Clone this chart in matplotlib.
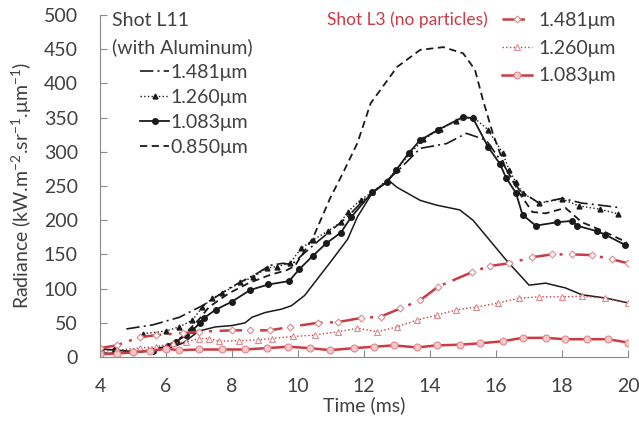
import matplotlib
matplotlib.use("Agg")
import matplotlib.pyplot as plt

plt.rcParams['font.family'] = ['Lato', 'DejaVu Sans']
plt.rcParams['mathtext.default'] = 'regular'

# Shot L11 (with Aluminum), black curves
t_al_1481 = [4.8, 5.6, 6.4, 7.1, 8.0, 8.75, 9.15, 9.55, 9.8, 10.1, 10.5, 11.0, 11.5, 12.0, 12.5,
             13.0, 13.7, 14.5, 15.1, 15.7, 16.2, 16.7, 17.3, 18.0, 18.6, 19.15, 19.8]
v_al_1481 = [41, 47, 58, 75, 103, 122, 134, 137, 135, 148, 165, 185, 205, 230, 250,
             271, 305, 312, 327, 317, 283, 244, 225, 232, 225, 222, 218]

t_al_1260 = [5.3, 6.0, 6.4, 6.8, 7.1, 7.4, 7.7, 8.25, 8.65, 9.05, 9.35, 9.75, 10.1, 10.45, 10.9,
             11.3, 11.5, 11.9, 12.25, 12.7, 13.0, 13.4, 13.8, 14.3, 14.8, 15.3, 15.76, 16.2,
             16.4, 16.6, 16.8, 17.3, 18.0, 18.5, 19.15, 19.7]
v_al_1260 = [34, 38, 44, 54, 73, 86, 93, 109, 117, 130, 132, 137, 159, 171, 184,
             197, 212, 230, 241, 258, 275, 298, 318, 333, 345, 351, 332, 298,
             273, 256, 240, 225, 231, 221, 216, 209]

t_al_1083 = [4.0, 4.45, 5.0, 5.6, 6.07, 6.3, 6.6, 6.8, 7.03, 7.15, 7.5, 8.0, 8.55, 9.1, 9.73,
             10.03, 10.45, 10.85, 11.3, 11.6, 12.25, 12.7, 12.97, 13.35, 13.7, 14.24, 15.0,
             15.3, 15.76, 16.12, 16.3, 16.6, 16.8, 17.2, 17.85, 18.3, 18.45, 19.05, 19.3, 19.9]
v_al_1083 = [12, 10, 8, 9, 16, 22, 32, 39, 50, 57, 69, 81, 98, 106, 111,
             128, 148, 166, 182, 204, 241, 256, 273, 298, 317, 332, 351,
             349, 307, 282, 262, 240, 208, 192, 197, 199, 192, 184, 179, 164]

t_al_0850 = [4.0, 5.0, 6.0, 6.5, 7.0, 7.3, 7.9, 8.5, 9.15, 9.66, 9.9, 10.45, 10.97, 11.36, 11.8,
             12.2, 13.0, 13.7, 14.4, 15.0, 15.36, 15.6, 15.9, 16.27, 16.7, 17.1, 17.5, 18.1,
             18.6, 19.15, 19.95]
v_al_0850 = [5, 7, 15, 30, 55, 73, 93, 108, 120, 127, 133, 174, 232, 269, 313,
             371, 424, 449, 453, 444, 420, 376, 327, 278, 240, 212, 210, 218,
             197, 186, 168]

# unlabeled thin black curve
t_al_other = [4.0, 5.0, 6.0, 6.5, 7.0, 7.5, 8.0, 8.4, 8.6, 9.0, 9.5, 9.8, 10.2, 10.6, 11.0,
              11.5, 11.8, 12.25, 12.75, 13.0, 13.7, 14.2, 14.9, 15.3, 15.8, 16.3, 17.0, 17.5,
              18.1, 18.6, 19.35, 20.0]
v_al_other = [5, 6, 12, 20, 38, 44, 46, 50, 58, 65, 70, 75, 90, 115, 140,
              172, 205, 240, 258, 248, 229, 222, 215, 200, 171, 142, 105, 108,
              101, 91, 86, 79]

# Shot L3 (no particles), red curves
t_np_1481 = [4.0, 4.5, 5.2, 5.7, 6.5, 7.0, 8.0, 8.55, 9.15, 9.76, 10.6, 11.2, 11.9, 12.5, 13.1,
             13.7, 14.25, 15.27, 15.8, 16.4, 17.1, 17.7, 18.3, 18.9, 19.5, 20.0]
v_np_1481 = [13, 17, 29, 32, 35, 37, 39, 39, 39, 44, 50, 51, 57, 59, 71,
             83, 103, 124, 133, 137, 146, 150, 150, 149, 143, 137]

t_np_1260 = [4.0, 4.5, 5.2, 5.7, 6.2, 6.6, 7.0, 7.3, 7.6, 8.2, 8.8, 9.2, 9.85, 10.5, 11.2,
             11.8, 12.4, 13.0, 13.6, 14.2, 14.8, 15.4, 16.06, 16.7, 17.3, 18.0, 18.6, 19.3, 20.0]
v_np_1260 = [8, 10, 13, 15, 20, 22, 27, 27, 23, 24, 25, 27, 30, 32, 37,
             42, 37, 44, 54, 61, 69, 73, 79, 86, 88, 88, 89, 86, 79]

t_np_1083 = [4.0, 4.5, 5.0, 5.5, 6.0, 6.4, 7.0, 7.7, 8.4, 9.05, 9.7, 10.36, 10.97, 11.7, 12.3,
             12.9, 13.6, 14.2, 14.9, 15.5, 16.2, 16.8, 17.5, 18.1, 18.75, 19.4, 20.0]
v_np_1083 = [4, 5, 7, 9, 12, 10, 11, 11, 11, 13, 15, 13, 10, 13, 15,
             17, 14, 17, 18, 20, 23, 28, 28, 26, 26, 26, 21]

labels_al = ['1.481\u03bcm', '1.260\u03bcm', '1.083\u03bcm', '0.850\u03bcm']
labels_np = ['1.481\u03bcm', '1.260\u03bcm', '1.083\u03bcm']

BLACK = '#1a1a1a'
RED = '#cc3a44'
GREY = '#404040'
FS = 14

fig = plt.figure(figsize=(6.39, 4.21), dpi=100)
ax = fig.add_axes([0.1565, 0.152, 0.8265, 0.8124])

# black series
ax.plot(t_al_other, v_al_other, color=BLACK, lw=1.1)
h1 = ax.plot(t_al_1481, v_al_1481, color=BLACK, lw=1.2, ls=(0, (8, 2.5, 1.2, 2.5)),
             label=labels_al[0])[0]
h2 = ax.plot(t_al_1260, v_al_1260, color=BLACK, lw=1.0, ls=':', marker='^', ms=3.5,
             label=labels_al[1])[0]
h3 = ax.plot(t_al_1083, v_al_1083, color=BLACK, lw=1.3, marker='o', ms=4,
             label=labels_al[2])[0]
h4 = ax.plot(t_al_0850, v_al_0850, color=BLACK, lw=1.3, ls=(0, (4, 2.5)),
             label=labels_al[3])[0]

# red series
r1 = ax.plot(t_np_1481, v_np_1481, color=RED, lw=1.8, ls=(0, (9, 3, 1.2, 3)),
             marker='D', ms=3.5, mfc='white', mec='#e08a8f', mew=0.8, label=labels_np[0])[0]
r2 = ax.plot(t_np_1260, v_np_1260, color=RED, lw=1.0, ls=':', marker='^', ms=4.5,
             mfc='white', mec='#e08a8f', mew=0.8, label=labels_np[1])[0]
r3 = ax.plot(t_np_1083, v_np_1083, color=RED, lw=1.8, marker='o', ms=5,
             mfc='#f4c8cb', mec='#e08a8f', mew=0.8, label=labels_np[2])[0]

ax.set_xlim(4, 20)
ax.set_ylim(0, 500)
ax.set_xticks(range(4, 21, 2))
ax.set_yticks(range(0, 501, 50))
for s in ['top', 'right']:
    ax.spines[s].set_visible(False)
for s in ['left', 'bottom']:
    ax.spines[s].set_color('#8a8a8a')
ax.tick_params(direction='in', length=5, color='#8a8a8a', labelsize=FS,
               labelcolor=GREY)
ax.tick_params(axis='y', pad=16)
ax.tick_params(axis='x', pad=15)

ax.set_xlabel('Time (ms)', fontsize=FS, color=GREY, labelpad=1)
ax.set_ylabel('Radiance (kW.m$^{-2}$.sr$^{-1}$.\u03bcm$^{-1}$)', fontsize=FS, color=GREY,
              labelpad=7)

fig.text(112 / 639, 1 - 20 / 421, 'Shot L11', fontsize=FS, color=GREY, va='center')
fig.text(112 / 639, 1 - 47 / 421, '(with Aluminum)', fontsize=FS, color=GREY, va='center')
fig.text(327 / 639, 1 - 20 / 421, 'Shot L3 (no particles)', fontsize=FS - 1.5, color=RED,
         va='center')

leg1 = ax.legend(handles=[h1, h2, h3, h4], loc='upper left',
                 bbox_to_anchor=(140 / 639, 1 - 64 / 421), bbox_transform=fig.transFigure,
                 frameon=False, fontsize=FS, handlelength=1.5, handletextpad=0.05,
                 labelspacing=0.41, borderpad=0, borderaxespad=0, labelcolor=GREY)
ax.add_artist(leg1)
ax.legend(handles=[r1, r2, r3], loc='upper left',
          bbox_to_anchor=(502 / 639, 1 - 12 / 421), bbox_transform=fig.transFigure,
          frameon=False, fontsize=FS, handlelength=1.55, handletextpad=0.35,
          labelspacing=0.55, borderpad=0, borderaxespad=0, labelcolor=GREY)

fig.savefig('out.png', dpi=100)
